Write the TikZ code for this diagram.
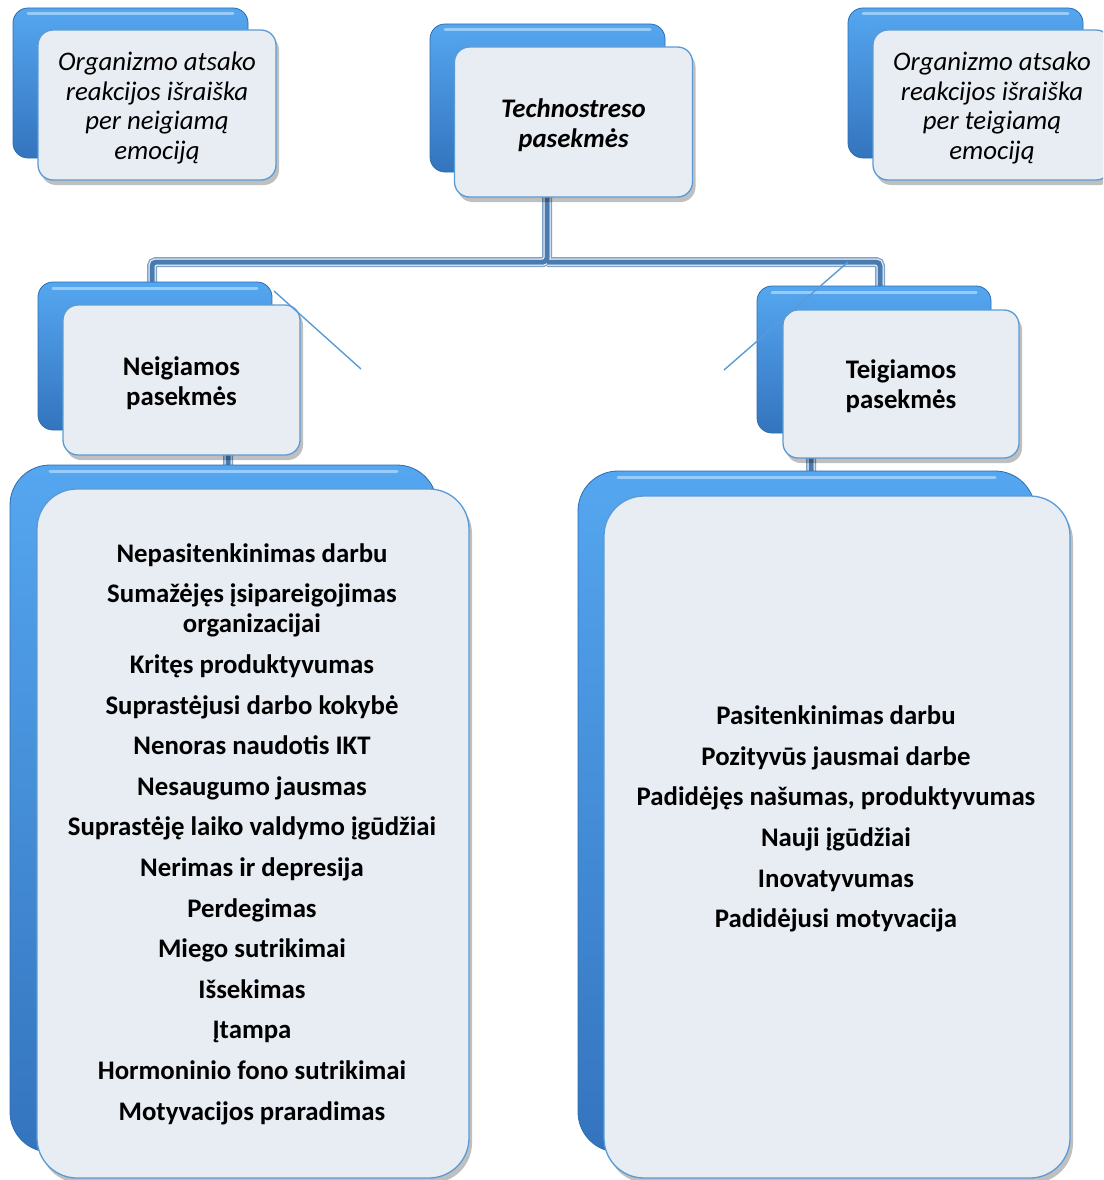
\documentclass[tikz,border=0pt]{standalone}
\usepackage{fontspec}
\setmainfont{Carlito}
\usetikzlibrary{shadows}
\definecolor{frontfill}{HTML}{E8ECF3}
\definecolor{frontline}{HTML}{5B9BD5}
\definecolor{backtop}{HTML}{55A6F0}
\definecolor{backbot}{HTML}{3474BE}
\definecolor{backedge}{HTML}{2E6DB0}
\definecolor{pipecol}{HTML}{4A7BB0}
\definecolor{gloss}{HTML}{A9D6FF}
\tikzset{
  backbox/.style={top color=backtop, bottom color=backbot, draw=backedge, line width=0.8pt},
  frontbox/.style={draw=frontline, line width=1.3pt, fill=frontfill,
    inner sep=0pt,
    drop shadow={shadow xshift=3pt, shadow yshift=-5pt, opacity=0.25, fill=black}},
  smallfront/.style={frontbox, rounded corners=15pt, minimum width=238pt, minimum height=150pt},
  bigfront/.style={frontbox, rounded corners=40pt},
  ittxt/.style={align=center, font=\itshape\fontsize{26.8}{29.5}\selectfont},
  bittxt/.style={align=center, font=\bfseries\itshape\fontsize{26.8}{30}\selectfont},
  btxt/.style={align=center, font=\bfseries\fontsize{26.8}{29.5}\selectfont},
  listtxt/.style={align=center, font=\bfseries\fontsize{26.8}{30}\selectfont},
  pipeout/.style={draw=pipecol!70, line width=10pt},
  pipemid/.style={draw=white, line width=7pt},
  pipein/.style={draw=pipecol, line width=5pt},
  thin/.style={draw=frontline, line width=1.4pt},
  glossline/.style={draw=gloss, line width=3pt, line cap=round, opacity=0.8}
}
\newcommand\backbx[5]{%
  \draw[backbox, rounded corners=#5] (#1,#2) rectangle (#3,#4);
  \draw[glossline] (#1+#5,#2+6) -- (#3-#5,#2+6);}
\begin{document}
\begin{tikzpicture}[x=1pt,y=-1pt]
\useasboundingbox (0,0) rectangle (1103,1180);
\clip (0,0) rectangle (1103,1180);
% pipe coordinates
\coordinate (p0) at (547,190);
\coordinate (pj) at (547,262);
\coordinate (pl) at (152,262);
\coordinate (pl2) at (152,440);
\coordinate (pl3) at (228,440);
\coordinate (pl4) at (228,475);
\coordinate (pr) at (880,262);
\coordinate (pr2) at (880,445);
\coordinate (pr3) at (811,445);
\coordinate (pr4) at (811,480);
\foreach \s in {pipeout,pipemid,pipein}{
  \draw[\s, rounded corners=4pt] (p0) -- (pj) -- (pl) -- (pl2) -- (pl3) -- (pl4);
  \draw[\s, rounded corners=4pt] (pj) -- (pr) -- (pr2) -- (pr3) -- (pr4);
}
% back boxes
\backbx{13}{8}{248}{158}{15pt}
\backbx{430}{24}{665}{172}{15pt}
\backbx{848}{8}{1083}{158}{15pt}
\backbx{38}{282}{272}{430}{15pt}
\backbx{757}{286}{991}{433}{15pt}
\backbx{10}{465}{437}{1152}{40pt}
\backbx{578}{471}{1035}{1152}{40pt}
% front boxes
\node[smallfront] (tl) at (157,105) {};
\node[smallfront] (tech) at (573.5,122) {};
\node[smallfront] (tr) at (992,105) {};
\node[smallfront, minimum width=237pt] (neg) at (181.5,380) {};
\node[smallfront, minimum width=236pt, minimum height=148pt] (pos) at (901,384) {};
\node[bigfront, minimum width=432pt, minimum height=689pt] (negbox) at (253,833.5) {};
\node[bigfront, minimum width=466pt, minimum height=682pt] (posbox) at (837,837) {};
% box texts
\node[ittxt] (tl-t) at (157,108) {Organizmo atsako\\reakcijos išraiška\\per neigiamą\\emociją};
\node[bittxt] (tech-t) at (573.5,125) {Technostreso\\pasekmės};
\node[ittxt] (tr-t) at (992,108) {Organizmo atsako\\reakcijos išraiška\\per teigiamą\\emociją};
\node[btxt] (neg-t) at (181.5,383) {Neigiamos\\pasekmės};
\node[btxt] (pos-t) at (901,386) {Teigiamos\\pasekmės};
% list texts
\node[listtxt] (neglist) at (252,834) {Nepasitenkinimas darbu\\[10.6pt]
Sumažėjęs įsipareigojimas\\organizacijai\\[10.6pt]
Kritęs produktyvumas\\[10.6pt]
Suprastėjusi darbo kokybė\\[10.6pt]
Nenoras naudotis IKT\\[10.6pt]
Nesaugumo jausmas\\[10.6pt]
Suprastėję laiko valdymo įgūdžiai\\[10.6pt]
Nerimas ir depresija\\[10.6pt]
Perdegimas\\[10.6pt]
Miego sutrikimai\\[10.6pt]
Išsekimas\\[10.6pt]
Įtampa\\[10.6pt]
Hormoninio fono sutrikimai\\[10.6pt]
Motyvacijos praradimas};
\node[listtxt] (poslist) at (836,819) {Pasitenkinimas darbu\\[10.6pt]
Pozityvūs jausmai darbe\\[10.6pt]
Padidėjęs našumas, produktyvumas\\[10.6pt]
Nauji įgūdžiai\\[10.6pt]
Inovatyvumas\\[10.6pt]
Padidėjusi motyvacija};
% thin diagonal lines
\coordinate (d1a) at (274,291);
\coordinate (d1b) at (361,369);
\coordinate (d2a) at (848,262);
\coordinate (d2b) at (724,370);
\draw[thin] (d1a) -- (d1b);
\draw[thin] (d2a) -- (d2b);
\end{tikzpicture}
\end{document}
